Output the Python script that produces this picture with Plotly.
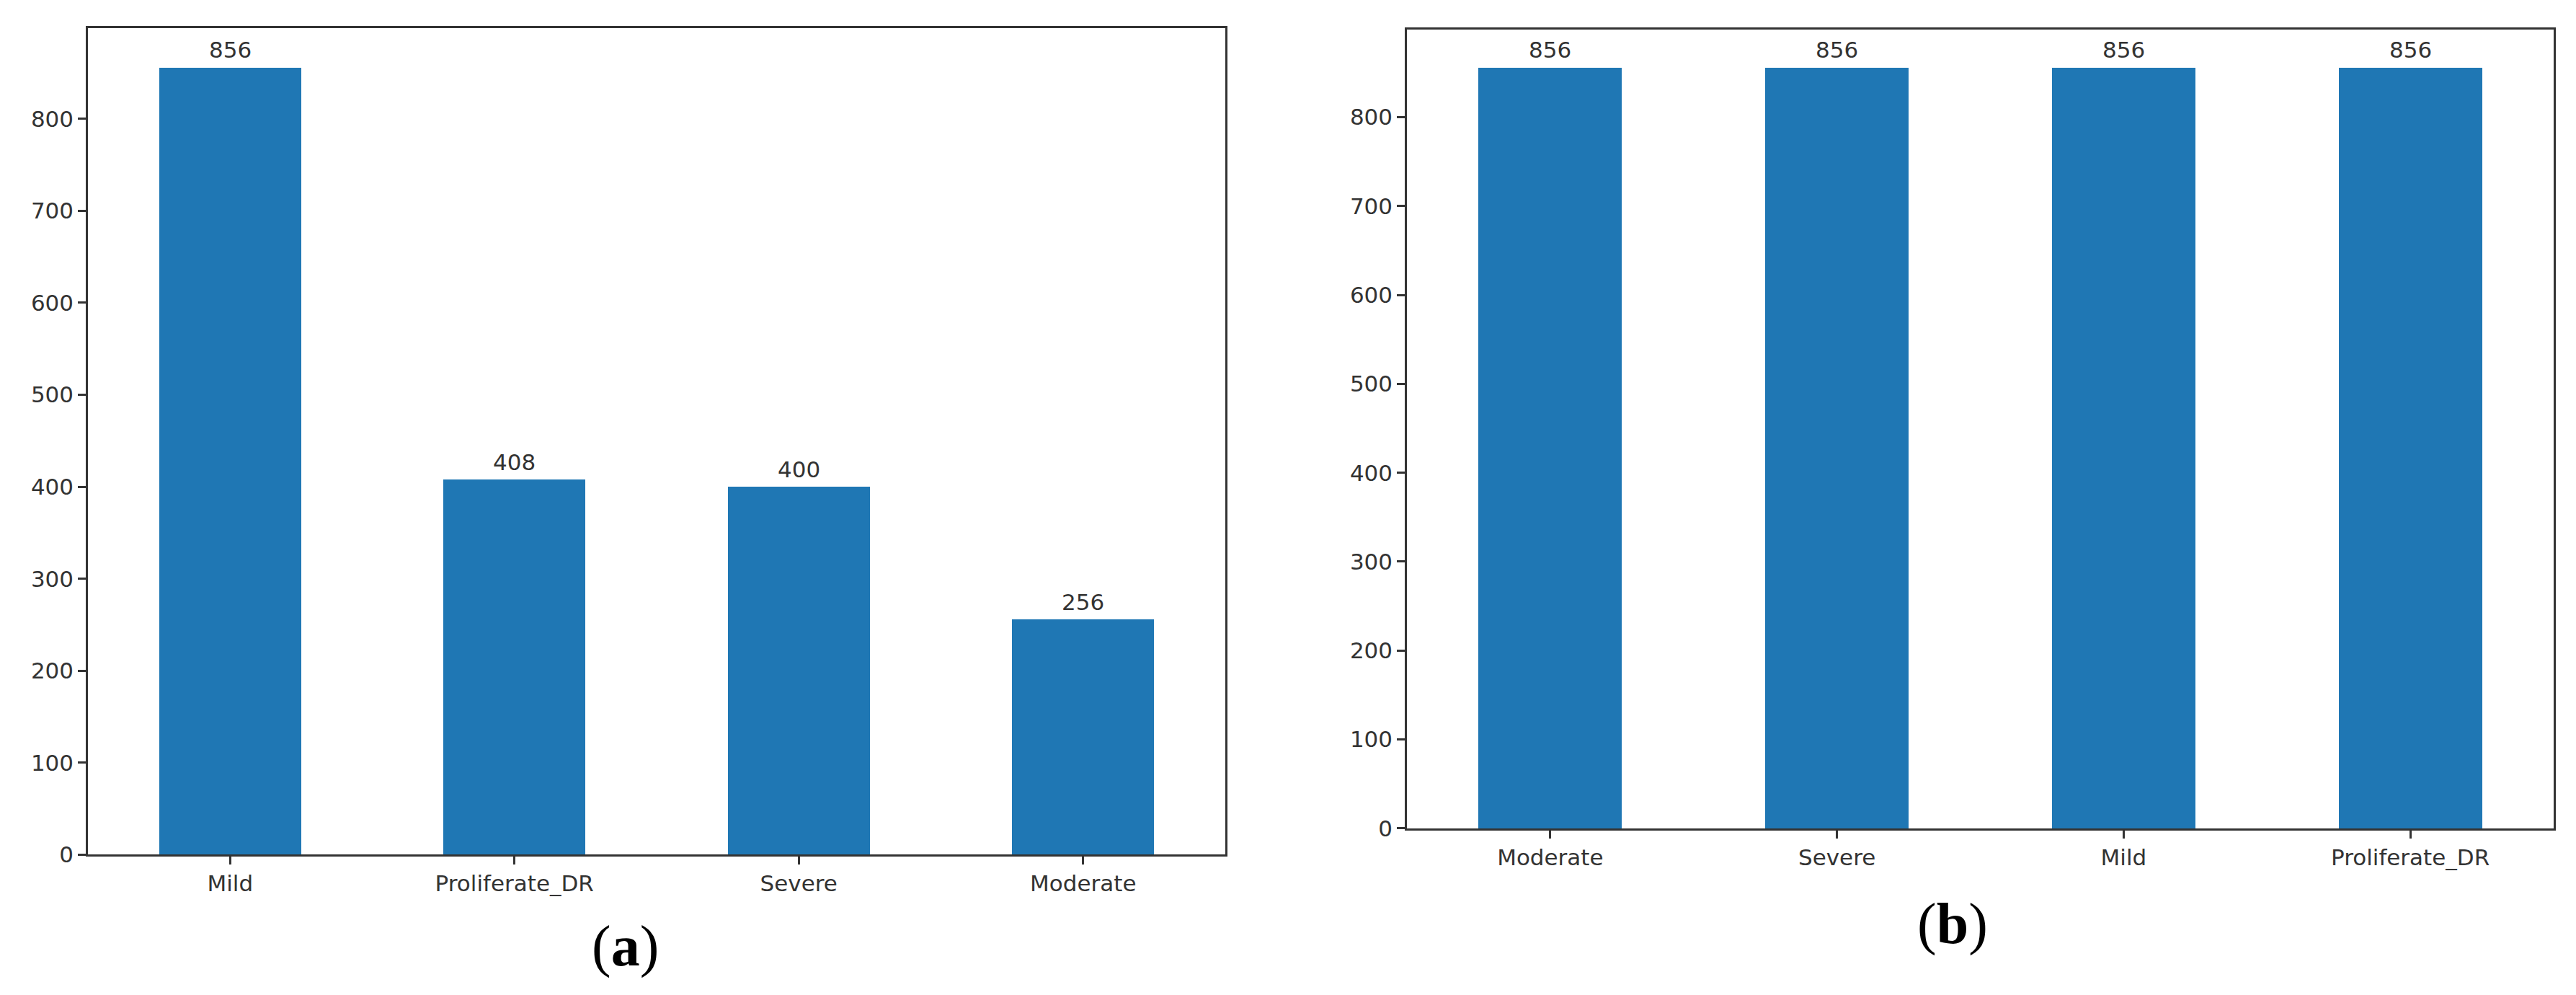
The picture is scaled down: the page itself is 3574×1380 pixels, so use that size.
import plotly.graph_objects as go

W, H = 3574, 1380

cats_a = ["Mild", "Proliferate_DR", "Severe", "Moderate"]
vals_a = [856, 408, 400, 256]

cats_b = ["Moderate", "Severe", "Mild", "Proliferate_DR"]
vals_b = [856, 856, 856, 856]

y_ticks = [0, 100, 200, 300, 400, 500, 600, 700, 800]
panel_labels = ["(<b>a</b>)", "(<b>b</b>)"]

BAR = "#1f77b4"
INK = "#333333"
FONT = "DejaVu Sans"
FS = 31

fig = go.Figure()
fig.add_trace(go.Bar(x=cats_a, y=vals_a, width=0.5, marker=dict(color=BAR, line=dict(width=0)),
                     xaxis="x", yaxis="y", showlegend=False))
fig.add_trace(go.Bar(x=cats_b, y=vals_b, width=0.5, marker=dict(color=BAR, line=dict(width=0)),
                     xaxis="x2", yaxis="y2", showlegend=False))

def px_x(a, b):
    return [a / W, b / W]

def px_y(top, bottom):
    return [1 - bottom / H, 1 - top / H]

axis_common = dict(showline=True, mirror=True, linecolor=INK, linewidth=2.5,
                   ticks="outside", ticklen=11, tickwidth=2.5, tickcolor=INK,
                   showgrid=False, zeroline=False,
                   tickfont=dict(family=FONT, size=FS, color=INK))

annotations = []
for cats, vals, xr, yr in [(cats_a, vals_a, "x", "y"), (cats_b, vals_b, "x2", "y2")]:
    for c, v in zip(cats, vals):
        annotations.append(dict(text=str(v), x=c, y=v, xref=xr, yref=yr, showarrow=False,
                                xanchor="center", yanchor="bottom", yshift=4,
                                font=dict(family=FONT, size=FS, color=INK)))

annotations += [
    dict(text=panel_labels[0], x=859 / W, y=1 - 1322 / H, xref="paper", yref="paper",
         showarrow=False, xanchor="center", yanchor="middle",
         font=dict(family="Liberation Serif", size=80, color="black")),
    dict(text=panel_labels[1], x=2701 / W, y=1 - 1290 / H, xref="paper", yref="paper",
         showarrow=False, xanchor="center", yanchor="middle",
         font=dict(family="Liberation Serif", size=80, color="black")),
]

fig.update_layout(
    width=W, height=H, margin=dict(l=0, r=0, t=0, b=0),
    paper_bgcolor="white", plot_bgcolor="white",
    bargap=0,
    xaxis=dict(domain=px_x(114, 1692), anchor="y", type="category", range=[-0.5, 3.5], **axis_common),
    yaxis=dict(domain=px_y(31, 1193), anchor="x", range=[0, 898.8], tickvals=y_ticks, **axis_common),
    xaxis2=dict(domain=px_x(1944, 3535), anchor="y2", type="category", range=[-0.5, 3.5], **axis_common),
    yaxis2=dict(domain=px_y(33, 1156), anchor="x2", range=[0, 898.8], tickvals=y_ticks, **axis_common),
    annotations=annotations,
)

fig.write_html("out.html")
